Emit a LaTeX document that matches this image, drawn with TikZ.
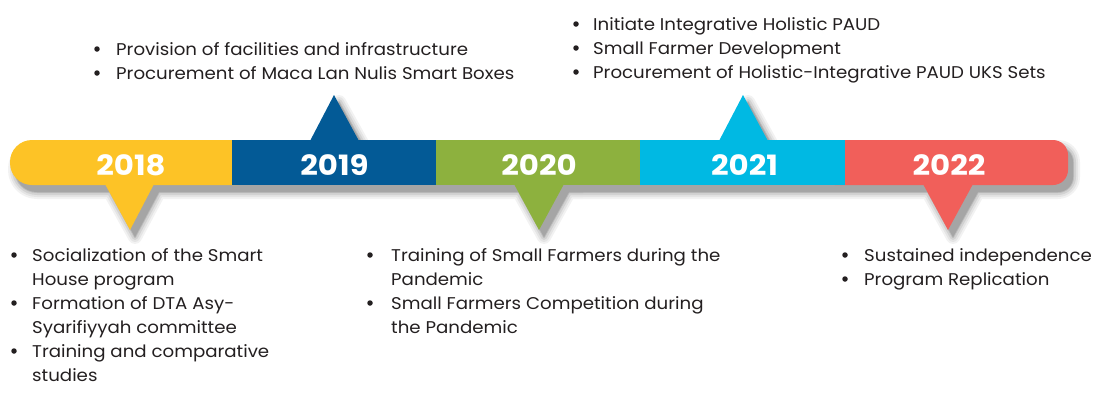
\documentclass[tikz,border=0pt]{standalone}
\usepackage{fontspec}
\setmainfont{Poppins}[FakeStretch=1.07]
\newfontfamily\yearfont{Poppins}[FakeStretch=1.1]
\definecolor{cy}{HTML}{FDC326}
\definecolor{cb}{HTML}{035A96}
\definecolor{cg}{HTML}{8DB13E}
\definecolor{cc}{HTML}{00B9E3}
\definecolor{cr}{HTML}{F15F5A}
\definecolor{txt}{HTML}{231F20}
\newcommand\silhshapes[1]{%
  \filldraw[#1, rounded corners=22pt] (10,140) rectangle (600,185);
  \filldraw[#1, rounded corners=15pt] (500,140) rectangle (1068,185);
  \filldraw[#1] (105,185) -- (130,230) -- (154,185) -- cycle;
  \filldraw[#1] (310,140) -- (334,95) -- (359,140) -- cycle;
  \filldraw[#1] (514,185) -- (539,230) -- (564,185) -- cycle;
  \filldraw[#1] (719,140) -- (743,95) -- (768,140) -- cycle;
  \filldraw[#1] (923,185) -- (948,230) -- (973,185) -- cycle;
}
\begin{document}
\begin{tikzpicture}[x=1pt,y=-1pt,
  yearlbl/.style={font=\yearfont\fontsize{28}{28}\selectfont\bfseries, text=white, inner sep=0pt},
  item/.style={anchor=base west, align=left, font=\fontsize{17}{24}\selectfont, text=txt, inner sep=0pt},
  dot/.style={circle, fill=txt, inner sep=0pt, minimum size=5.5pt}]
\useasboundingbox (0,0) rectangle (1096,392);
% soft shadow
\foreach \w/\o in {14/0.05, 10/0.06, 6/0.08, 2/0.1, 0.01/0.13}{
  \begin{scope}[transparency group, opacity=\o, shift={(5,7)}]
    \silhshapes{black, line width=\w pt, line join=round}
  \end{scope}
}
% bar
\fill[cy, rounded corners=22pt] (10,140) rectangle (260,185);
\fill[cr, rounded corners=15pt] (820,140) rectangle (1068,185);
\fill[cb] (232,140) rectangle (436,185);
\fill[cg] (436,140) rectangle (640,185);
\fill[cc] (640,140) rectangle (845,185);
% pointers
\fill[cy] (105,184) -- (130,230) -- (154,184) -- cycle;
\fill[cb] (310,141) -- (334,95) -- (359,141) -- cycle;
\fill[cg] (514,184) -- (539,230) -- (564,184) -- cycle;
\fill[cc] (719,141) -- (743,95) -- (768,141) -- cycle;
\fill[cr] (923,184) -- (948,230) -- (973,184) -- cycle;
% years
\node[yearlbl] (y18) at (131,165) {2018};
\node[yearlbl] (y19) at (334.5,165) {2019};
\node[yearlbl] (y20) at (539,165) {2020};
\node[yearlbl] (y21) at (744.5,165) {2021};
\node[yearlbl] (y22) at (949,165) {2022};
% 2019 (top left)
\node[dot] (d19a) at (97,49) {};
\node[item] (t19a) at (116,55) {Provision of facilities and infrastructure};
\node[dot] (d19b) at (97,73) {};
\node[item] (t19b) at (116,79) {Procurement of Maca Lan Nulis Smart Boxes};
% 2021 (top right)
\node[dot] (d21a) at (576,24) {};
\node[item] (t21a) at (593,30) {Initiate Integrative Holistic PAUD};
\node[dot] (d21b) at (576,48) {};
\node[item] (t21b) at (593,54) {Small Farmer Development};
\node[dot] (d21c) at (576,72) {};
\node[item] (t21c) at (593,78) {Procurement of Holistic-Integrative PAUD UKS Sets};
% 2018 (bottom left); base anchor = baseline of last line
\node[dot] (d18a) at (14,255) {};
\node[item] (t18a) at (32,285) {Socialization of the Smart\\House program};
\node[dot] (d18b) at (14,303) {};
\node[item] (t18b) at (32,333) {Formation of DTA Asy-\\Syarifiyyah committee};
\node[dot] (d18c) at (14,351) {};
\node[item] (t18c) at (32,381) {Training and comparative\\studies};
% 2020 (bottom middle)
\node[dot] (d20a) at (370,255) {};
\node[item] (t20a) at (391,285) {Training of Small Farmers during the\\Pandemic};
\node[dot] (d20b) at (370,303) {};
\node[item] (t20b) at (391,333) {Small Farmers Competition during\\the Pandemic};
% 2022 (bottom right)
\node[dot] (d22a) at (845,255) {};
\node[item] (t22a) at (864,261) {Sustained independence};
\node[dot] (d22b) at (845,279) {};
\node[item] (t22b) at (864,285) {Program Replication};
\end{tikzpicture}
\end{document}
